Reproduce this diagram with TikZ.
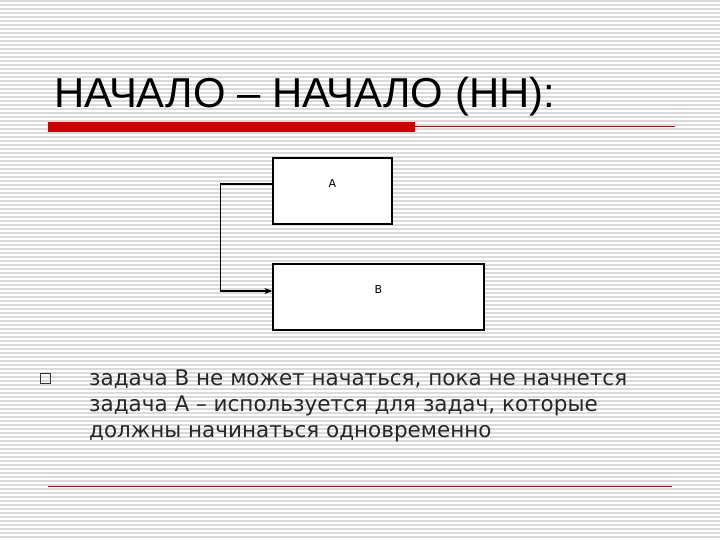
\documentclass[tikz,border=0pt]{standalone}
\usepackage{fontspec}
\setmainfont{DejaVu Sans}
\newfontfamily\titlefont{Liberation Sans}
\usetikzlibrary{arrows.meta}
\definecolor{stripegray}{RGB}{218,218,218}
\definecolor{barred}{RGB}{204,0,0}
\definecolor{rulered}{RGB}{140,30,30}
\begin{document}
\begin{tikzpicture}[x=1pt, y=-1pt,
    taskbox/.style={draw, line width=1.2pt, fill=white, minimum height=66pt, inner sep=0pt},
    tasklabel/.style={font=\fontsize{11}{13}\selectfont}]
        \useasboundingbox (0,0) rectangle (720,540);
        \fill[white] (0,0) rectangle (720,540);
        % Draw the background stripes
        \foreach \k in {0,...,134} {
            \draw[stripegray, line width=1.5pt] (0,4*\k+1) -- (720,4*\k+1);
        }
        % Draw the title and its rule
        \node[anchor=base west, inner sep=0pt, font=\titlefont\fontsize{41.8}{48}\selectfont] (title) at (54,108) {НАЧАЛО – НАЧАЛО (НН):};
        \fill[barred] (48,122) rectangle (415,132);
        \draw[rulered, line width=0.8pt] (415,126) -- (675,126);
        % Draw the two tasks
        \node[taskbox, minimum width=119pt, label={[tasklabel, yshift=8pt]center:A}] (A) at (332.5,191) {};
        \node[taskbox, minimum width=211pt, label={[tasklabel, yshift=8pt]center:B}] (B) at (378.5,297) {};
        % Draw the start-to-start link
        \draw[line width=1.2pt, -{Stealth[length=8pt, width=6pt]}] ([yshift=7pt]A.west) -- ++(-52,0) |- ([yshift=6pt]B.west);
        % Draw the bullet and its text
        \node[draw=black!80, line width=0.8pt, minimum size=10pt, inner sep=0pt] (bullet) at (45,378) {};
        \node[anchor=north west, inner sep=0pt, align=left, text=black!85, font=\fontsize{21.5}{26}\selectfont] (body) at (89,370) {задача B не может начаться, пока не начнется\\задача A – используется для задач, которые\\должны начинаться одновременно};
        \draw[rulered, line width=0.8pt] (48,486) -- (672,486);
    \end{tikzpicture}
\end{document}
